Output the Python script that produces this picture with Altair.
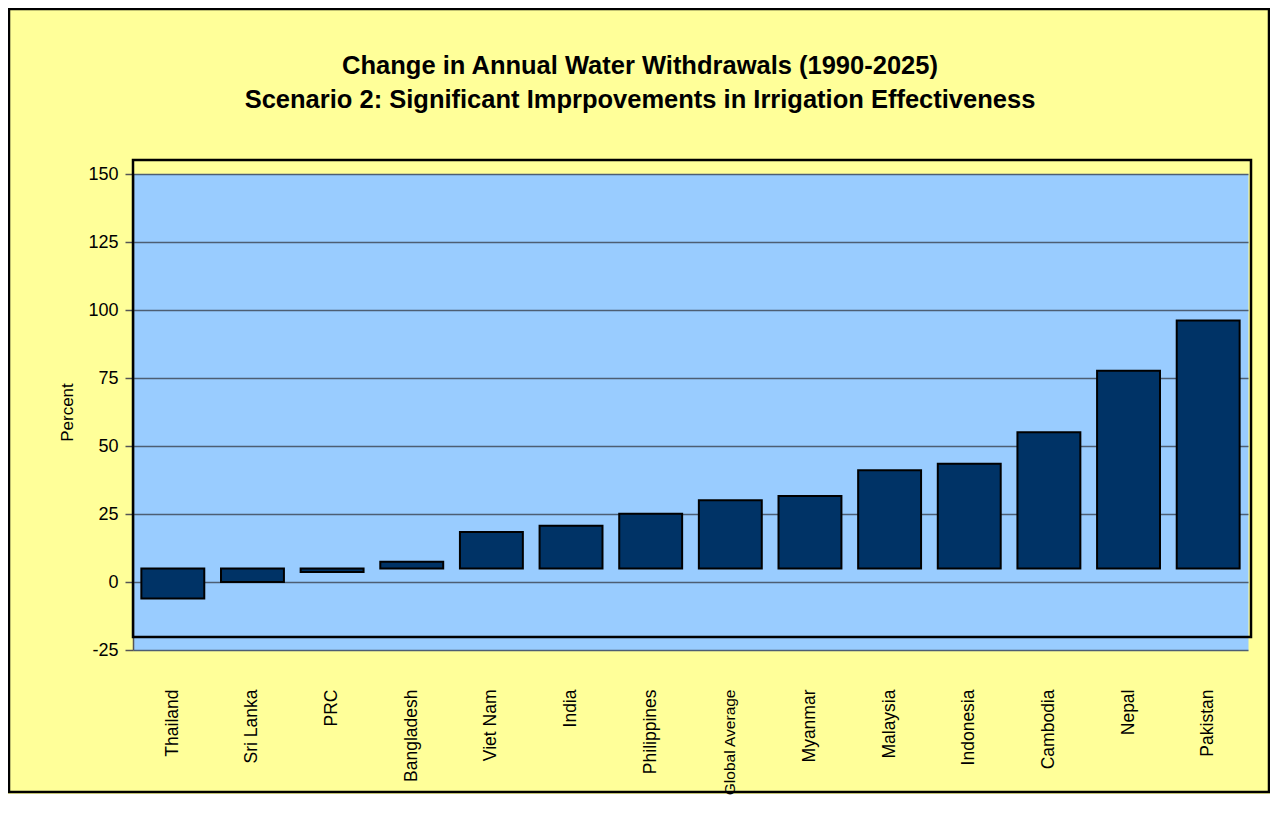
import altair as alt
import pandas as pd

countries = ["Thailand", "Sri Lanka", "PRC", "Bangladesh", "Viet Nam", "India",
             "Philippines", "Global Average", "Myanmar", "Malaysia", "Indonesia",
             "Cambodia", "Nepal", "Pakistan"]
values = [-6.1, 0.0, 3.7, 7.4, 18.4, 20.7, 25.1, 30.1, 31.6, 41.1, 43.5, 55.1, 77.7, 96.1]
bar_base = 5
y_ticks = [-25, 0, 25, 50, 75, 100, 125, 150]
title_lines = ["Change in Annual Water Withdrawals (1990-2025)",
               "Scenario 2: Significant Imprpovements in Irrigation Effectiveness"]

FONT = "Liberation Sans"

df = pd.DataFrame({"country": countries, "value": values, "base": [bar_base] * len(countries)})
one = pd.DataFrame({"k": [0]})

x_label_size = {"condition": {"test": "datum.value === 'Global Average'", "value": 15.5},
                "value": 17.5}

bars = alt.Chart(df).mark_bar(color="#003366", stroke="black", strokeWidth=2).encode(
    x=alt.X("country:N", sort=countries,
            scale=alt.Scale(paddingInner=0.21, paddingOuter=0.105),
            axis=alt.Axis(title=None, labelAngle=270, labelAlign="right", labelBaseline="middle",
                          labelPadding=39, ticks=False, tickSize=0, domain=False, grid=False,
                          labelFontSize=x_label_size, labelFont=FONT, labelColor="black", zindex=1,
                          labelLimit=300)),
    y=alt.Y("value:Q", scale=alt.Scale(domain=[-25, 150], nice=False, zero=False),
            axis=alt.Axis(values=y_ticks, title="Percent", grid=True, gridColor="#4d5e73",
                          gridWidth=1.5, tickSize=8, tickColor="#555555", tickWidth=1.5,
                          domainColor="#555555", domainWidth=1.5,
                          labelExpr="'' + datum.value",
                          labelFontSize=18, labelFont=FONT, labelColor="black", labelPadding=7,
                          titleFont=FONT, titleFontSize=17, titleFontWeight="normal",
                          titleColor="black", titleAngle=270, titleX=-66, titleY=238,
                          titleAlign="center", titleBaseline="middle")),
    y2="base:Q",
)

box = alt.Chart(one).mark_rect(fillOpacity=0, stroke="black", strokeWidth=2.5, clip=False).encode(
    x=alt.value(0), x2=alt.value(1118), y=alt.value(-14), y2=alt.value(463))

strip = alt.Chart(one).mark_rect(color="white", clip=False).encode(
    x=alt.value(-130), x2=alt.value(1200), y=alt.value(620), y2=alt.value(700))

frame = alt.Chart(one).mark_rect(fillOpacity=0, stroke="black", strokeWidth=2.5, clip=False).encode(
    x=alt.value(-124), x2=alt.value(1136), y=alt.value(-165), y2=alt.value(618))

title = alt.Chart(one).mark_text(font=FONT, fontSize=25.5, fontWeight="bold", align="center",
                                 baseline="alphabetic", lineHeight=34, color="black").encode(
    x=alt.value(507), y=alt.value(-100), text=alt.value(title_lines))

chart = alt.layer(bars, box, strip, frame, title).properties(
    width=1115, height=476, background="#FFFF99",
    padding={"left": 125, "top": 166, "right": 22, "bottom": 150},
    autosize=alt.AutoSizeParams(type="none"),
).configure_view(fill="#99CCFF", stroke="transparent")

chart.save("out.html", embed_options={"renderer": "svg", "actions": False})
